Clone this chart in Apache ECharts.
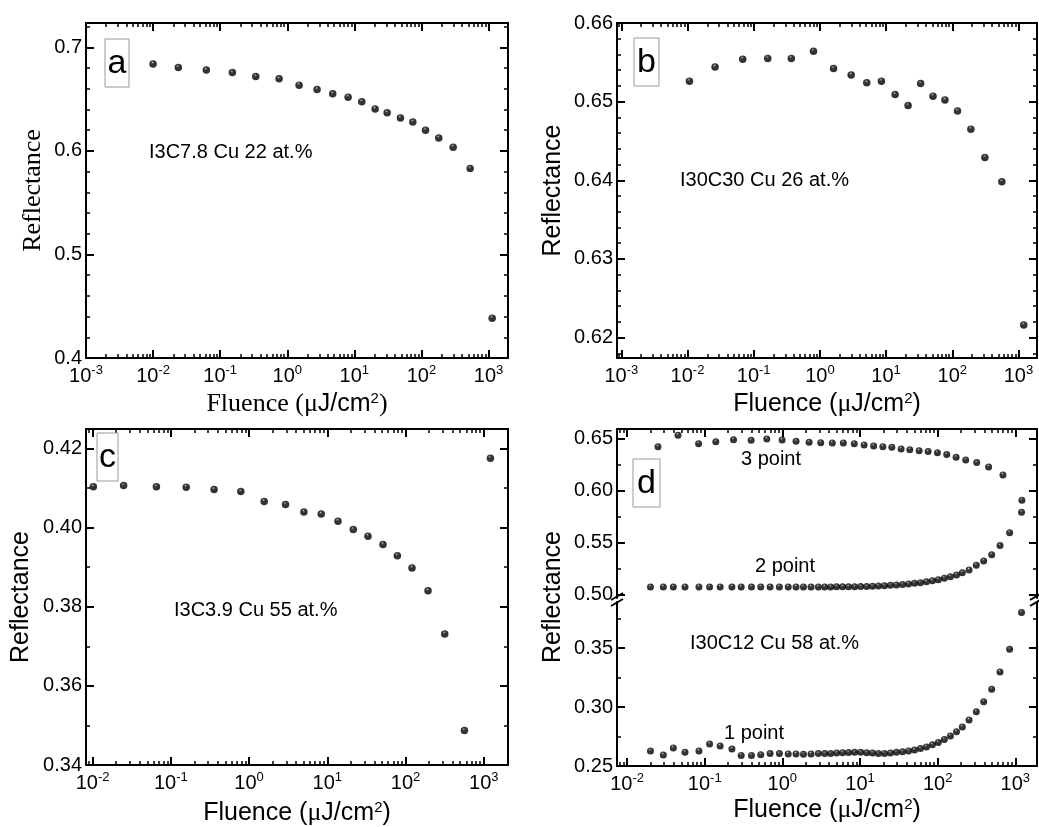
<!DOCTYPE html>
<html>
<head>
<meta charset="utf-8">
<script src="https://cdn.jsdelivr.net/npm/echarts@6/dist/echarts.min.js"></script>
<style>
  html, body { margin: 0; padding: 0; background: #fff; }
  #chart { width: 1039px; height: 827px; }
</style>
</head>
<body>
<div id="chart"></div>
<script>
// ---- Panel a : I3C7.8 Cu 22 at.% ----
const fluenceA = [0.0100, 0.0238, 0.0622, 0.152, 0.339, 0.755, 1.50, 2.78, 4.76, 8.07, 12.9, 20.4, 30.8, 48.6, 74.3, 115, 181, 297, 532, 1133];
const reflA = [0.6840, 0.6805, 0.6780, 0.6756, 0.6718, 0.6696, 0.6635, 0.6593, 0.6551, 0.6519, 0.6474, 0.6404, 0.6369, 0.6317, 0.6279, 0.6199, 0.6125, 0.6035, 0.5830, 0.4385];

// ---- Panel b : I30C30 Cu 26 at.% ----
const fluenceB = [0.0107, 0.0261, 0.0683, 0.163, 0.370, 0.80, 1.61, 2.97, 5.11, 8.5, 13.7, 21.5, 33.3, 51.2, 77.5, 120, 191, 311, 561, 1202];
const reflB = [0.6526, 0.6544, 0.6554, 0.6555, 0.6555, 0.6564, 0.6542, 0.6534, 0.6524, 0.6526, 0.6509, 0.6495, 0.6523, 0.6507, 0.6502, 0.6488, 0.6465, 0.6429, 0.6398, 0.6216];

// ---- Panel c : I3C3.9 Cu 55 at.% ----
const fluenceC = [0.0102, 0.0249, 0.0653, 0.157, 0.357, 0.784, 1.56, 2.92, 5.02, 8.36, 13.7, 21.5, 33.1, 51.5, 78.6, 121, 194, 317, 566, 1216];
const reflC = [0.4103, 0.4106, 0.4103, 0.4102, 0.4096, 0.4091, 0.4066, 0.4058, 0.4039, 0.4034, 0.4016, 0.3995, 0.3978, 0.3957, 0.3929, 0.3898, 0.3840, 0.3731, 0.3487, 0.4175];

// ---- Panel d : I30C12 Cu 58 at.% (three probe positions) ----
const fluenceD3 = [0.025, 0.0453, 0.0834, 0.139, 0.235, 0.396, 0.63, 0.993, 1.50, 2.21, 3.12, 4.40, 6.10, 8.44, 11.3, 15.0, 19.7, 25.7, 33.9, 43.8, 57.8, 75.4, 99.4, 131, 173, 230, 319, 454, 694, 1219];
const refl3 = [0.6423, 0.6532, 0.6452, 0.6471, 0.6490, 0.6484, 0.6497, 0.6487, 0.6474, 0.6465, 0.6461, 0.6458, 0.6458, 0.6452, 0.6439, 0.6429, 0.6423, 0.6417, 0.6400, 0.6394, 0.6384, 0.6375, 0.6365, 0.6346, 0.6320, 0.6294, 0.6269, 0.6227, 0.6150, 0.5906];

const fluenceD12 = [0.0200, 0.0293, 0.0394, 0.0557, 0.0842, 0.1155, 0.158, 0.224, 0.295, 0.400, 0.527, 0.695, 0.916, 1.19, 1.50, 1.87, 2.34, 2.91, 3.51, 4.19, 5.00, 5.97, 7.13, 8.53, 10.2, 12.2, 14.5, 17.3, 20.7, 24.7, 29.5, 35.3, 42.2, 50.4, 60.1, 71.8, 85.7, 102, 122, 146, 175, 208, 254, 315, 392, 497, 636, 846, 1205];
const refl2 = [0.5070, 0.5070, 0.5070, 0.5070, 0.5070, 0.5070, 0.5070, 0.5070, 0.5070, 0.5070, 0.5070, 0.5070, 0.5070, 0.5070, 0.5070, 0.5070, 0.5070, 0.5070, 0.5071, 0.5071, 0.5072, 0.5072, 0.5073, 0.5073, 0.5074, 0.5075, 0.5078, 0.5080, 0.5083, 0.5087, 0.5090, 0.5095, 0.5100, 0.5106, 0.5112, 0.5120, 0.5130, 0.5141, 0.5154, 0.5170, 0.5186, 0.5208, 0.5235, 0.5280, 0.5321, 0.5382, 0.5469, 0.5594, 0.5790];
const refl1 = [0.2627, 0.2593, 0.2653, 0.2616, 0.2627, 0.2686, 0.2669, 0.2644, 0.2590, 0.2590, 0.2596, 0.2605, 0.2605, 0.2602, 0.2602, 0.2599, 0.2602, 0.2605, 0.2605, 0.2607, 0.2610, 0.2612, 0.2614, 0.2616, 0.2616, 0.2613, 0.2610, 0.2607, 0.2607, 0.2610, 0.2616, 0.2621, 0.2627, 0.2636, 0.2648, 0.2662, 0.2680, 0.2700, 0.2725, 0.2755, 0.2790, 0.2830, 0.2890, 0.2960, 0.3045, 0.3150, 0.3297, 0.3489, 0.3800];

// ---- Tick labels ----
const decadesAB = [0.001, 0.01, 0.1, 1, 10, 100, 1000];
const decadesCD = [0.01, 0.1, 1, 10, 100, 1000];
const yTicksA = [0.4, 0.5, 0.6, 0.7];
const yTicksB = [0.62, 0.63, 0.64, 0.65, 0.66];
const yTicksC = [0.34, 0.36, 0.38, 0.40, 0.42];
const yTicksDUpper = [0.50, 0.55, 0.60, 0.65];
const yTicksDLower = [0.25, 0.30, 0.35];

const SANS = '"Liberation Sans", Arial, sans-serif';
const SERIF = '"Liberation Serif", "Times New Roman", serif';

// log minor ticks (2..9 per decade) inside an extent
function logMinors(min, max) {
  const out = [];
  for (let e = -4; e <= 3; e++) {
    for (let k = 2; k <= 9; k++) {
      const v = k * Math.pow(10, e);
      if (v > min && v < max) out.push(v);
    }
  }
  return out;
}
// linear minor ticks between majors
function linMinors(min, max, step, majors) {
  const out = [];
  const n0 = Math.ceil(min / step - 1e-6), n1 = Math.floor(max / step + 1e-6);
  for (let n = n0; n <= n1; n++) {
    const v = +(n * step).toFixed(6);
    if (!majors.some(m => Math.abs(m - v) < step / 10)) out.push(v);
  }
  return out;
}

const powRich = {
  b: { fontSize: 20, fontFamily: SANS, color: '#000', lineHeight: 24 },
  s: { fontSize: 13, fontFamily: SANS, color: '#000', lineHeight: 6, verticalAlign: 'top' }
};
function powLabel(v) {
  const e = Math.round(Math.log10(v));
  return '{b|10}{s|' + e + '}';
}

const LINE = { color: '#000', width: 2 };
const option = {
  animation: false,
  backgroundColor: '#fff',
  grid: [], xAxis: [], yAxis: [], series: [], graphic: []
};

function addX(grid, pos, range, majors, labels, name, nameGap, nameStyle) {
  const major = {
    type: 'log', logBase: 10, gridIndex: grid, position: pos, min: range[0], max: range[1],
    axisLine: { show: true, onZero: false, lineStyle: LINE },
    axisTick: { show: true, inside: true, length: 8, customValues: majors, lineStyle: LINE },
    axisLabel: labels ? { show: true, customValues: majors, margin: 6, formatter: powLabel, rich: powRich } : { show: false },
    splitLine: { show: false }
  };
  if (name) {
    major.name = name;
    major.nameLocation = 'middle';
    major.nameGap = nameGap;
    major.nameTextStyle = nameStyle;
  }
  const minor = {
    type: 'log', logBase: 10, gridIndex: grid, position: pos, min: range[0], max: range[1],
    axisLine: { show: false },
    axisTick: { show: true, inside: true, length: 4, customValues: logMinors(range[0], range[1]), lineStyle: { color: '#000', width: 1.5 } },
    axisLabel: { show: false },
    splitLine: { show: false }
  };
  const idx = option.xAxis.length;
  option.xAxis.push(major, minor);
  return idx;
}

function addY(grid, pos, range, majors, minorStep, labels, decimals, name, nameGap, nameStyle) {
  const major = {
    type: 'value', gridIndex: grid, position: pos, min: range[0], max: range[1],
    axisLine: { show: true, onZero: false, lineStyle: LINE },
    axisTick: { show: true, inside: true, length: 8, customValues: majors, lineStyle: LINE },
    axisLabel: labels ? {
      show: true, customValues: majors, margin: 4,
      formatter: v => Number(v).toFixed(decimals),
      fontSize: 20, fontFamily: SANS, color: '#000'
    } : { show: false },
    splitLine: { show: false }
  };
  if (name) {
    major.name = name;
    major.nameLocation = 'middle';
    major.nameGap = nameGap;
    major.nameTextStyle = nameStyle;
  }
  const minor = {
    type: 'value', gridIndex: grid, position: pos, min: range[0], max: range[1],
    axisLine: { show: false },
    axisTick: { show: true, inside: true, length: 4, customValues: linMinors(range[0], range[1], minorStep, majors), lineStyle: { color: '#000', width: 1.5 } },
    axisLabel: { show: false },
    splitLine: { show: false }
  };
  const idx = option.yAxis.length;
  option.yAxis.push(major, minor);
  return idx;
}

// glossy black sphere used for every data point
const ball = new echarts.graphic.RadialGradient(0.42, 0.3, 0.7, [
  { offset: 0, color: '#d8d8d8' },
  { offset: 0.14, color: '#3a3a3a' },
  { offset: 0.38, color: '#000' },
  { offset: 1, color: '#000' }
]);

function addScatter(xi, yi, xs, ys, size) {
  option.series.push({
    type: 'scatter', xAxisIndex: xi, yAxisIndex: yi, silent: true,
    symbol: 'circle', symbolSize: size,
    itemStyle: { color: ball },
    data: xs.map((x, i) => [x, ys[i]])
  });
}

const fluenceName = 'Fluence ({mu|\u03bc}J/cm{sup|2})';
const sansNameStyle = {
  fontSize: 25, fontFamily: SANS, color: '#000', verticalAlign: 'middle',
  rich: {
    mu: { fontSize: 26, fontFamily: SERIF, color: '#000' },
    sup: { fontSize: 15, fontFamily: SANS, color: '#000', lineHeight: 8, verticalAlign: 'top' }
  }
};
const serifNameStyle = {
  fontSize: 26, fontFamily: SERIF, color: '#000', verticalAlign: 'middle',
  rich: {
    sa: { fontSize: 25, fontFamily: SANS, color: '#000' },
    sup: { fontSize: 15, fontFamily: SANS, color: '#000', lineHeight: 8, verticalAlign: 'top' }
  }
};
const yNameSans = { fontSize: 25, fontFamily: SANS, color: '#000', verticalAlign: 'middle' };
const yNameSerif = { fontSize: 26, fontFamily: SERIF, color: '#000', verticalAlign: 'middle' };

// ---------- panel a ----------
{
  const g = option.grid.length;
  option.grid.push({ left: 86, top: 23, width: 422, height: 335 });
  const xr = [0.001, Math.pow(10, 3.29)], yr = [0.4, 0.7235];
  const xi = addX(g, 'bottom', xr, decadesAB, true, 'Fluence (\u03bc{sa|J/cm}{sup|2})', 46, serifNameStyle);
  addX(g, 'top', xr, decadesAB, false);
  const yi = addY(g, 'left', yr, yTicksA, 0.02, true, 1, 'Reflectance', 53, yNameSerif);
  addY(g, 'right', yr, yTicksA, 0.02, false, 1);
  addScatter(xi, yi, fluenceA, reflA, 7.5);
}
// ---------- panel b ----------
{
  const g = option.grid.length;
  option.grid.push({ left: 617, top: 23, width: 420, height: 335 });
  const xr = [Math.pow(10, -3.065), Math.pow(10, 3.28)], yr = [0.6174, 0.6600];
  const xi = addX(g, 'bottom', xr, decadesAB, true, fluenceName, 46, sansNameStyle);
  addX(g, 'top', xr, decadesAB, false);
  const yi = addY(g, 'left', yr, yTicksB, 0.002, true, 2, 'Reflectance', 64, yNameSans);
  addY(g, 'right', yr, yTicksB, 0.002, false, 2);
  addScatter(xi, yi, fluenceB, reflB, 7.5);
}
// ---------- panel c ----------
{
  const g = option.grid.length;
  option.grid.push({ left: 86, top: 429, width: 422, height: 337 });
  const xr = [Math.pow(10, -2.085), Math.pow(10, 3.31)], yr = [0.34, 0.4249];
  const xi = addX(g, 'bottom', xr, decadesCD, true, fluenceName, 48, sansNameStyle);
  addX(g, 'top', xr, decadesCD, false);
  const yi = addY(g, 'left', yr, yTicksC, 0.01, true, 2, 'Reflectance', 65, yNameSans);
  addY(g, 'right', yr, yTicksC, 0.01, false, 2);
  addScatter(xi, yi, fluenceC, reflC, 7.5);
}
// ---------- panel d (broken y axis: upper and lower parts) ----------
{
  const xr = [Math.pow(10, -2.13), Math.pow(10, 3.28)];
  const gu = option.grid.length;
  option.grid.push({ left: 617, top: 429, width: 420, height: 169 });
  const yru = [0.4964, 0.6593];
  const xiu = addX(gu, 'top', xr, decadesCD, false);
  const yiu = addY(gu, 'left', yru, yTicksDUpper, 0.025, true, 2);
  addY(gu, 'right', yru, yTicksDUpper, 0.025, false, 2);
  addScatter(xiu, yiu, fluenceD12, refl2, 7);
  addScatter(xiu, yiu, fluenceD3, refl3, 7);

  const gl = option.grid.length;
  option.grid.push({ left: 617, top: 602, width: 420, height: 164 });
  const yrl = [0.25, 0.389];
  const xil = addX(gl, 'bottom', xr, decadesCD, true, fluenceName, 44, sansNameStyle);
  const yil = addY(gl, 'left', yrl, yTicksDLower, 0.025, true, 2);
  addY(gl, 'right', yrl, yTicksDLower, 0.025, false, 2);
  addScatter(xil, yil, fluenceD12, refl1, 7);
}

// ---------- texts, panel letters, axis-break marks ----------
function txt(x, y, s, size, family, align) {
  return { type: 'text', x: x, y: y, z: 100, silent: true,
    style: { text: s, fontSize: size, fontFamily: family, fill: '#000', align: align || 'left', verticalAlign: 'middle' } };
}
function letterBox(x, y, w, h, s) {
  return [
    { type: 'rect', z: 99, silent: true, shape: { x: x, y: y, width: w, height: h }, style: { fill: '#fff', stroke: '#9a9a9a', lineWidth: 1 } },
    txt(x + w / 2, y + h / 2 + 1, s, 34, SANS, 'center')
  ];
}
function breakMark(x, y) {
  return [
    { type: 'line', z: 100, silent: true, shape: { x1: x - 6, y1: y + 1, x2: x + 6, y2: y - 6 }, style: { stroke: '#000', lineWidth: 2 } },
    { type: 'line', z: 100, silent: true, shape: { x1: x - 6, y1: y + 7, x2: x + 6, y2: y }, style: { stroke: '#000', lineWidth: 2 } }
  ];
}

option.graphic = [].concat(
  letterBox(105, 39, 24, 48, 'a'),
  letterBox(634, 38, 25, 48, 'b'),
  letterBox(97, 433, 21, 48, 'c'),
  letterBox(633, 459, 27, 48, 'd'),
  [
    txt(149, 152, 'I3C7.8 Cu 22 at.%', 20, SANS),
    txt(680, 180, 'I30C30 Cu 26 at.%', 20, SANS),
    txt(174, 610, 'I3C3.9 Cu 55 at.%', 20, SANS),
    txt(690, 643, 'I30C12 Cu 58 at.%', 20, SANS),
    txt(771, 459, '3 point', 20, SANS, 'center'),
    txt(785, 566, '2 point', 20, SANS, 'center'),
    txt(754, 733, '1 point', 20, SANS, 'center'),
    { type: 'text', x: 553, y: 597, rotation: Math.PI / 2, z: 100, silent: true,
      style: { text: 'Reflectance', fontSize: 25, fontFamily: SANS, fill: '#000', align: 'center', verticalAlign: 'middle' } }
  ],
  breakMark(617, 599),
  breakMark(1036, 599)
);

const chart = echarts.init(document.getElementById('chart'), null, { renderer: 'canvas' });
chart.setOption(option);
</script>
</body>
</html>
